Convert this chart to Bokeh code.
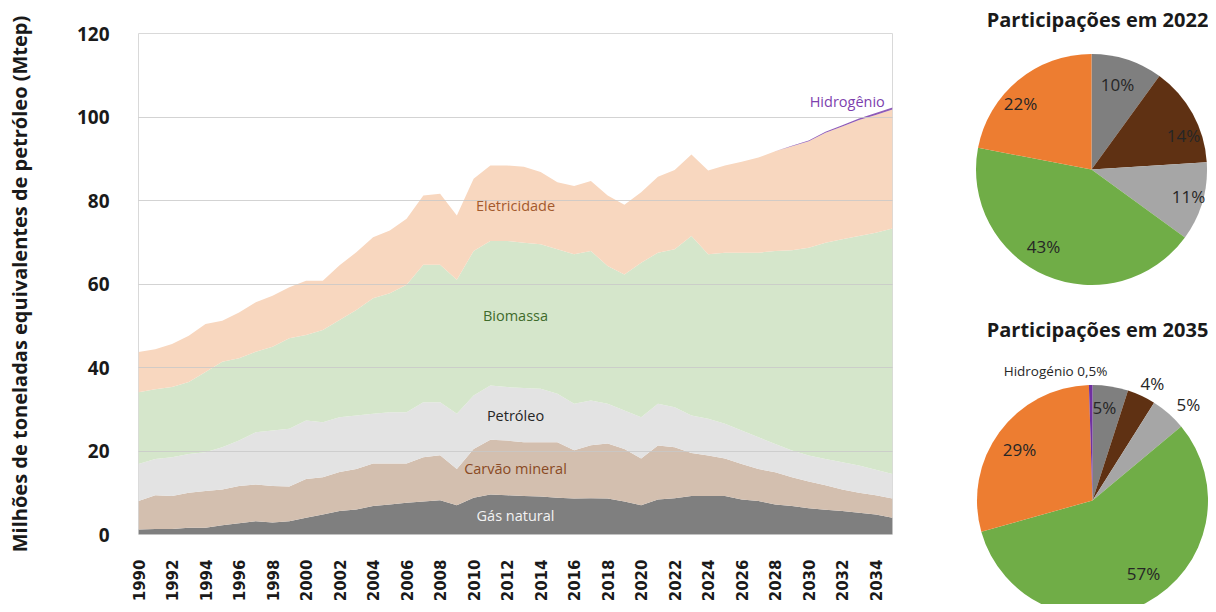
import math
import numpy as np
from bokeh.plotting import figure
from bokeh.layouts import row, column
from bokeh.models import ColumnDataSource, Range1d, FixedTicker
from bokeh.core.properties import value
from bokeh.embed import file_html
from bokeh.resources import INLINE

FONT = "Open Sans"

years = list(range(1990, 2036))
gas_natural = [1.2, 1.3, 1.3, 1.6, 1.6, 2.2, 2.7, 3.2, 2.9, 3.2, 4.0, 4.8, 5.6, 6.0, 6.8, 7.2,
               7.6, 7.9, 8.2, 7.0, 8.8, 9.6, 9.4, 9.2, 9.1, 8.8, 8.6, 8.7, 8.6, 7.9, 7.0, 8.4,
               8.7, 9.2, 9.2, 9.2, 8.4, 8.0, 7.2, 6.8, 6.3, 5.9, 5.6, 5.2, 4.8, 4.0]
carvao_mineral = [6.8, 8.1, 7.9, 8.4, 8.8, 8.6, 8.9, 8.8, 8.7, 8.3, 9.3, 8.9, 9.4, 9.7, 10.2, 9.8,
                  9.4, 10.6, 10.8, 8.7, 11.7, 13.1, 13.1, 12.9, 13.0, 13.3, 11.6, 12.7, 13.2, 12.6, 11.2, 12.9,
                  12.2, 10.3, 9.7, 9.0, 8.5, 7.7, 7.7, 6.9, 6.4, 5.9, 5.2, 4.8, 4.6, 4.6]
petroleo = [8.9, 8.7, 9.3, 9.3, 9.3, 10.1, 10.9, 12.5, 13.3, 13.8, 14.0, 13.2, 13.1, 12.8, 11.9, 12.3,
            12.3, 13.2, 12.7, 13.2, 12.8, 13.0, 12.8, 13.0, 12.8, 11.6, 11.1, 10.7, 9.5, 9.2, 9.9, 10.0,
            9.6, 9.0, 8.8, 8.3, 8.0, 7.6, 6.8, 6.4, 6.2, 6.3, 6.5, 6.5, 6.1, 5.9]
biomassa = [17.2, 16.7, 16.8, 17.2, 19.2, 20.5, 19.7, 19.3, 20.1, 21.7, 20.5, 22.1, 23.3, 25.3, 27.7, 28.5,
            30.5, 32.9, 32.9, 32.1, 34.6, 34.6, 35.0, 34.8, 34.6, 34.6, 35.8, 35.8, 33.0, 32.6, 37.0, 36.2,
            37.8, 43.0, 39.4, 41.0, 42.6, 44.2, 46.2, 48.0, 49.8, 51.8, 53.4, 55.0, 56.8, 58.8]
eletricidade = [9.6, 9.6, 10.3, 11.1, 11.5, 9.8, 11.0, 11.8, 12.2, 12.2, 13.0, 11.8, 13.1, 13.8, 14.6, 15.0,
                15.8, 16.6, 17.0, 15.4, 17.3, 18.1, 18.1, 18.2, 17.3, 16.1, 16.4, 16.8, 16.9, 16.7, 16.9, 18.2,
                19.0, 19.5, 20.1, 20.9, 21.8, 22.8, 23.9, 24.9, 25.5, 26.3, 27.0, 27.8, 28.2, 28.5]
hidrogenio = [0.0] * 39 + [0.1, 0.15, 0.25, 0.3, 0.35, 0.45, 0.5]

series_names = ["Gás natural", "Carvão mineral", "Petróleo", "Biomassa", "Eletricidade", "Hidrogênio"]
area_colors = ["#7f7f7f", "#d3bfaf", "#e3e3e3", "#d5e6cb", "#f8d7bf", "#8e5bb8"]

year_ticks = list(range(1990, 2035, 2))
y_ticks = [0, 20, 40, 60, 80, 100, 120]

pie_2022 = [10, 14, 11, 43, 22]
pie_2022_labels = ["10%", "14%", "11%", "43%", "22%"]
pie_2035 = [5, 4, 5, 57, 29, 0.5]
pie_2035_labels = ["5%", "4%", "5%", "57%", "29%", "Hidrogénio 0,5%"]
pie_colors = ["#7f7f7f", "#5f3113", "#a6a6a6", "#70ad47", "#ed7d31", "#7030a0"]

# ---------------- main stacked area chart ----------------
src = ColumnDataSource(dict(year=years, g=gas_natural, c=carvao_mineral, p=petroleo,
                            b=biomassa, e=eletricidade, h=hidrogenio))

p = figure(width=946, height=604, x_range=Range1d(1990, 2035), y_range=Range1d(0, 120),
           output_backend="svg", toolbar_location=None,
           min_border_left=138, min_border_right=54, min_border_top=33, min_border_bottom=67)
p.varea_stack(stackers=["g", "c", "p", "b", "e", "h"], x="year", color=area_colors, source=src)

p.outline_line_color = "#d9d9d9"
p.xgrid.visible = False
p.ygrid.grid_line_color = "#c8c8c8"
p.ygrid.grid_line_alpha = 0.8
p.ygrid.level = "overlay"
p.yaxis.ticker = FixedTicker(ticks=y_ticks)
p.xaxis.ticker = FixedTicker(ticks=year_ticks)
for ax in (p.xaxis, p.yaxis):
    ax.axis_line_color = None
    ax.major_tick_line_color = None
    ax.minor_tick_line_color = None
    ax.major_label_text_font_style = "bold"
    ax.major_label_text_color = "#1a1a1a"
p.yaxis.major_label_text_font = FONT
p.yaxis.major_label_text_font_size = "19px"
p.yaxis.major_label_standoff = 23
p.xaxis.major_label_text_font = "DejaVu Sans"
p.xaxis.major_label_text_font_size = "15px"
p.xaxis.major_label_orientation = math.pi / 2
p.xaxis.major_label_standoff = 19
p.yaxis.axis_label = "Milhões de toneladas equivalentes de petróleo (Mtep)"
p.yaxis.axis_label_text_font = FONT
p.yaxis.axis_label_text_font_style = "bold"
p.yaxis.axis_label_text_font_size = "20px"
p.yaxis.axis_label_text_color = "#1a1a1a"
p.yaxis.axis_label_standoff = 41

lab_x = [2012.5, 2012.5, 2012.5, 2012.5, 2012.5, 2032.3]
lab_y = [4.6, 15.9, 28.6, 52.4, 78.9, 103.8]
lab_col = ["#f2f2f2", "#8a4a24", "#262626", "#3f6b2b", "#a35a2e", "#7d3fae"]
p.text(x=lab_x, y=lab_y, text=series_names, text_color=lab_col, text_font=value(FONT),
       text_font_size="14.5px", text_align="center", text_baseline="middle")

# ---------------- pies ----------------
q = figure(width=262, height=604, x_range=Range1d(0, 262), y_range=Range1d(0, 604),
           output_backend="svg", toolbar_location=None,
           min_border_left=0, min_border_right=0, min_border_top=0, min_border_bottom=0)
q.axis.visible = False
q.grid.visible = False
q.outline_line_color = None


def draw_pie(vals, cx, cy, r):
    v = np.array(vals, dtype=float)
    cum = np.concatenate([[0], np.cumsum(v)]) / v.sum()
    start = np.pi / 2 - 2 * np.pi * cum[:-1]
    end = np.pi / 2 - 2 * np.pi * cum[1:]
    q.wedge(x=cx, y=cy, radius=r, start_angle=start, end_angle=end, direction="clock",
            fill_color=pie_colors[:len(vals)], line_color=None)


draw_pie(pie_2022, 145, 435, 115.5)
draw_pie(pie_2035, 146, 104, 115.5)

q.text(x=[151, 151], y=[585, 275], text=["Participações em 2022", "Participações em 2035"],
       text_font=value(FONT), text_font_style="bold", text_font_size="20px",
       text_color="#1a1a1a", text_align="center", text_baseline="middle")
q.text(x=[171, 237, 242, 97, 74], y=[520, 469, 408, 358, 501], text=pie_2022_labels,
       text_font=value(FONT), text_font_size="17px", text_color="#262626",
       text_align="center", text_baseline="middle")
q.text(x=[158, 206, 242, 197, 73], y=[197, 221, 200, 31, 155], text=pie_2035_labels[:5],
       text_font=value(FONT), text_font_size="17px", text_color="#262626",
       text_align="center", text_baseline="middle")
q.text(x=[109], y=[234], text=pie_2035_labels[5:], text_font=value(FONT),
       text_font_size="13.5px", text_color="#262626", text_align="center", text_baseline="middle")

layout = row(p, column(q))
open("out.html", "w").write(file_html(layout, INLINE))
